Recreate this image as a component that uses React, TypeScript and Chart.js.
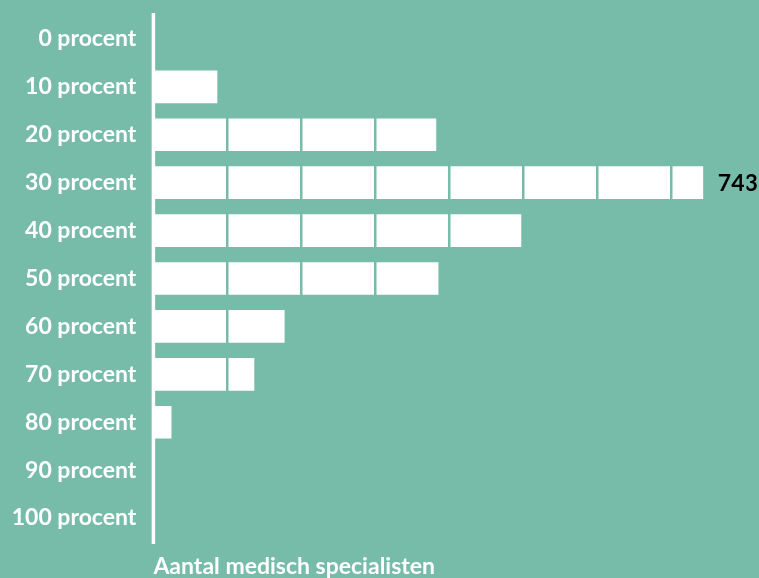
import React, { useEffect, useRef } from "react";
import { Chart, registerables } from "chart.js";

Chart.register(...registerables);

const categories = [
  "0 procent",
  "10 procent",
  "20 procent",
  "30 procent",
  "40 procent",
  "50 procent",
  "60 procent",
  "70 procent",
  "80 procent",
  "90 procent",
  "100 procent",
];
const counts = [0, 86, 382, 743, 497, 385, 177, 136, 24, 0, 0];
const labelledValues = [743];
const axisTitle = "Aantal medisch specialisten";
const xMax = 800;
const xStep = 100;

const BG = "#77bca8";
const FONT = "Lato";

export default function App() {
  const ref = useRef<HTMLCanvasElement | null>(null);

  useEffect(() => {
    document.body.style.margin = "0";
    document.body.style.background = BG;
    const canvas = ref.current;
    if (!canvas) return;

    const overlay = {
      id: "overlay",
      afterDatasetsDraw(chart: any) {
        const { ctx, chartArea, scales } = chart;
        const x0 = scales.x.getPixelForValue(0);
        ctx.save();
        // axis line
        ctx.strokeStyle = "#ffffff";
        ctx.lineWidth = 3.5;
        ctx.beginPath();
        ctx.moveTo(x0, chartArea.top - 2);
        ctx.lineTo(x0, chartArea.bottom + 2);
        ctx.stroke();
        // value labels
        ctx.fillStyle = "#000000";
        ctx.font = `bold 23px ${FONT}`;
        ctx.textBaseline = "middle";
        ctx.textAlign = "left";
        counts.forEach((v, i) => {
          if (labelledValues.includes(v)) {
            const px = scales.x.getPixelForValue(v);
            const py = scales.y.getPixelForValue(i);
            ctx.fillText(String(v), px + 15, py + 1);
          }
        });
        // axis title
        ctx.fillStyle = "#ffffff";
        ctx.font = `bold 23px ${FONT}`;
        ctx.textBaseline = "alphabetic";
        ctx.fillText(axisTitle, x0, chartArea.bottom + 31.5);
        ctx.restore();
      },
    };

    const chart = new Chart(canvas, {
      type: "bar",
      data: {
        labels: categories,
        datasets: [
          {
            data: counts,
            backgroundColor: "#ffffff",
            borderWidth: 0,
            barThickness: 32,
          },
        ],
      },
      options: {
        indexAxis: "y",
        animation: false,
        responsive: false,
        maintainAspectRatio: false,
        layout: { padding: { top: 15, right: 14, left: 0, bottom: 0 } },
        plugins: {
          legend: { display: false },
          tooltip: { enabled: false },
        },
        scales: {
          x: {
            min: 0,
            max: xMax,
            position: "bottom",
            ticks: { display: false, stepSize: xStep },
            border: { display: false },
            grid: {
              z: 1,
              drawTicks: false,
              lineWidth: 2.5,
              color: (c: any) =>
                c.tick && c.tick.value === 0 ? "rgba(0,0,0,0)" : BG,
            },
            afterFit: (s: any) => {
              s.height = 36;
              s.paddingLeft = 0;
              s.paddingRight = 0;
            },
          },
          y: {
            ticks: {
              color: "#ffffff",
              padding: 17,
              font: { family: FONT, weight: "bold", size: 23 },
            },
            grid: { display: false, drawTicks: false },
            border: { display: false },
            afterFit: (s: any) => {
              s.width = 153.4;
              s.paddingTop = 0;
              s.paddingBottom = 0;
            },
          },
        },
      },
      plugins: [overlay],
    });
    return () => chart.destroy();
  }, []);

  return (
    <div style={{ width: 759, height: 578, background: BG }}>
      <canvas ref={ref} width={759} height={578} style={{ display: "block" }} />
    </div>
  );
}
